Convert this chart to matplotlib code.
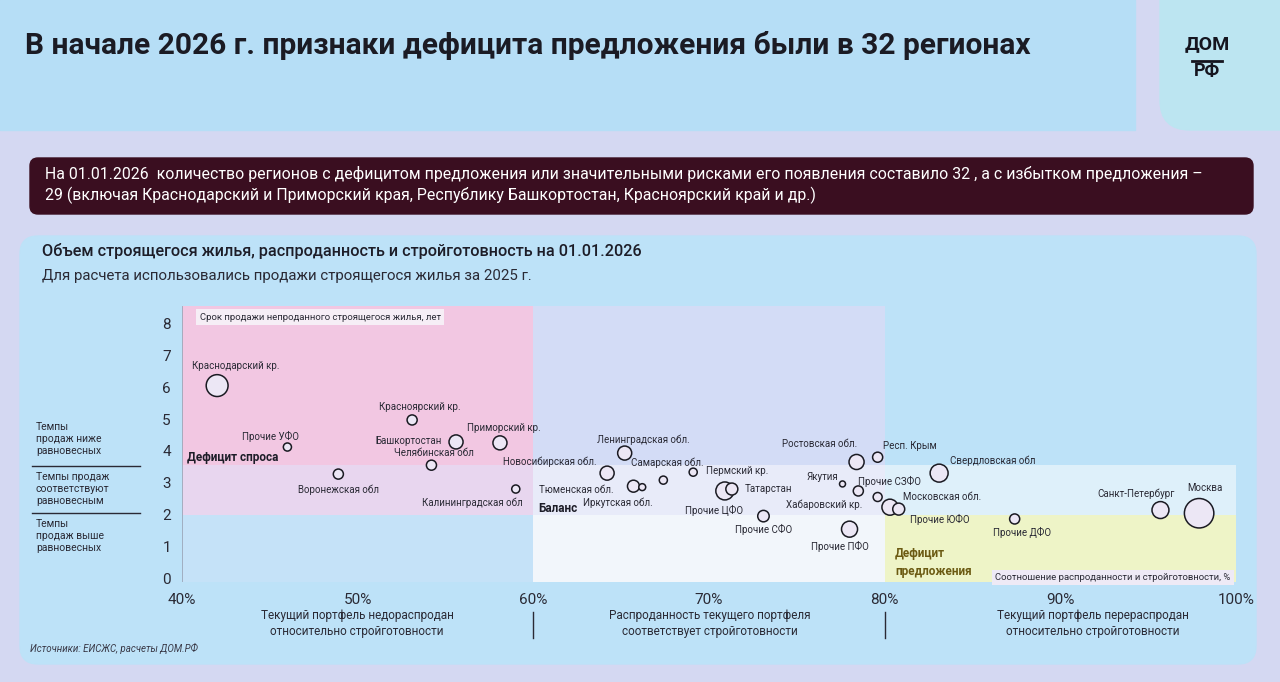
import matplotlib.pyplot as plt
from matplotlib.patches import FancyBboxPatch, Rectangle

plt.rcParams['font.family'] = ['Roboto', 'DejaVu Sans']

# data: sold share of portfolio vs construction readiness, % ; years to sell; volume (rel.)
regions = [
    "Краснодарский кр.", "Красноярский кр.", "Прочие УФО", "Башкортостан",
    "Приморский кр.", "Челябинская обл", "Воронежская обл", "Калининградская обл",
    "Новосибирская обл.", "Ленинградская обл.", "Тюменская обл.", "Иркутская обл.",
    "Самарская обл.", "Пермский кр.", "Прочие ЦФО", "Татарстан", "Прочие СФО",
    "Ростовская обл.", "Респ. Крым", "Якутия", "Прочие СЗФО", "Хабаровский кр.",
    "Московская обл.", "Прочие ЮФО", "Прочие ПФО", "Свердловская обл",
    "Прочие ДФО", "Санкт-Петербург", "Москва",
]
ratio = [42.0, 53.1, 46.0, 55.6, 58.1, 54.2, 48.9, 59.0,
         64.2, 65.2, 65.7, 66.2, 67.4, 69.1, 70.9, 71.3, 73.1,
         78.4, 79.6, 77.6, 78.5, 79.6, 80.3, 80.8, 78.0, 83.1,
         87.4, 95.7, 97.9]
years = [6.05, 4.97, 4.12, 4.28, 4.25, 3.55, 3.27, 2.80,
         3.30, 3.93, 2.89, 2.86, 3.08, 3.33, 2.74, 2.80, 1.95,
         3.65, 3.80, 2.96, 2.74, 2.55, 2.23, 2.17, 1.54, 3.30,
         1.86, 2.14, 2.04]
volume = [8.0, 1.7, 1.1, 3.3, 3.3, 1.7, 1.7, 1.1,
          3.3, 3.3, 2.4, 0.8, 1.1, 1.1, 5.4, 2.4, 2.2,
          3.8, 1.7, 0.6, 1.7, 1.35, 4.3, 2.4, 4.3, 5.4,
          1.7, 4.8, 14.5]

y_ticks = [0, 1, 2, 3, 4, 5, 6, 7, 8]
x_ticks = [40, 50, 60, 70, 80, 90, 100]
x_ticklabels = ["40%", "50%", "60%", "70%", "80%", "90%", "100%"]

# label placement (offset in pixels from circle centre, y down) and alignment
label_pos = {
    "Краснодарский кр.": (19, -20, "center"), "Красноярский кр.": (8, -13, "center"),
    "Прочие УФО": (-17, -11, "center"), "Башкортостан": (-14, -1, "right"),
    "Приморский кр.": (4, -15, "center"), "Челябинская обл": (2, -12, "center"),
    "Воронежская обл": (0, 16, "center"), "Калининградская обл": (7, 14, "right"),
    "Новосибирская обл.": (-10, -11, "right"), "Ленинградская обл.": (19, -13, "center"),
    "Тюменская обл.": (-20, 4, "right"), "Иркутская обл.": (-24, 16, "center"),
    "Самарская обл.": (4, -17, "center"), "Пермский кр.": (13, -1, "left"),
    "Прочие ЦФО": (-11, 20, "center"), "Татарстан": (13, 0, "left"),
    "Прочие СФО": (0, 13, "center"), "Ростовская обл.": (-37, -18, "center"),
    "Респ. Крым": (32, -11, "center"), "Якутия": (-20, -7, "center"),
    "Прочие СЗФО": (31, -9, "center"), "Хабаровский кр.": (-15, 8, "right"),
    "Московская обл.": (13, -10, "left"), "Прочие ЮФО": (11, 10, "left"),
    "Прочие ПФО": (-10, 17, "center"), "Свердловская обл": (11, -12, "left"),
    "Прочие ДФО": (7, 14, "center"), "Санкт-Петербург": (-24, -16, "center"),
    "Москва": (6, -25, "center"),
}

W, H = 1280, 682
fig = plt.figure(figsize=(12.8, 6.82), dpi=100)
bg = fig.add_axes([0, 0, 1, 1], zorder=0)
bg.set_xlim(0, W)
bg.set_ylim(H, 0)
bg.axis("off")

bg.add_patch(Rectangle((0, 0), W, H, color="#d4d8f2"))
bg.add_patch(Rectangle((0, 0), 1135, 130, color="#b6def6"))
bg.add_patch(FancyBboxPatch((1160, -40), 160, 170, boxstyle="round,pad=0,rounding_size=30",
                            color="#bce5f1"))
bg.add_patch(FancyBboxPatch((30, 158), 1223, 56, boxstyle="round,pad=0,rounding_size=8",
                            color="#3a0e20"))
bg.add_patch(FancyBboxPatch((20, 236), 1236, 428, boxstyle="round,pad=0,rounding_size=18",
                            color="#bde2f8"))

bg.text(25, 46, "В начале 2026 г. признаки дефицита предложения были в 32 регионах",
        fontsize=21.5, fontweight="bold", color="#1b1b24", va="center")
bg.text(1207, 44, "ДОМ", fontsize=14, fontweight="bold", color="#15151f",
        ha="center", va="center")
bg.plot([1192, 1222], [61, 61], color="#15151f", lw=2)
bg.text(1207, 71, "РФ", fontsize=13, fontweight="bold", color="#15151f",
        ha="center", va="center")

bg.text(45, 174, "На 01.01.2026  количество регионов с дефицитом предложения или значительными "
        "рисками его появления составило 32 , а с избытком предложения –",
        fontsize=11.4, color="white", va="center")
bg.text(45, 195, "29 (включая Краснодарский и Приморский края, Республику Башкортостан, "
        "Красноярский край и др.)", fontsize=11.4, color="white", va="center")

bg.text(42, 251, "Объем строящегося жилья, распроданность и стройготовность на 01.01.2026",
        fontsize=11.7, fontweight="medium", color="#1d1d28", va="center")
bg.text(42, 276, "Для расчета использовались продажи строящегося жилья за 2025 г.",
        fontsize=10.8, color="#2a2a35", va="center")

side_kw = dict(fontsize=7.5, color="#2a2a35", va="center", linespacing=1.25)
bg.text(36, 439, "Темпы\nпродаж ниже\nравновесных", **side_kw)
bg.plot([32, 140], [466, 466], color="#2a2a35", lw=1)
bg.text(36, 489, "Темпы продаж\nсоответствуют\nравновесным", **side_kw)
bg.plot([32, 140], [513, 513], color="#2a2a35", lw=1)
bg.text(36, 536, "Темпы\nпродаж выше\nравновесных", **side_kw)

desc_kw = dict(fontsize=8.5, color="#2a2a35", ha="center", va="center", linespacing=1.3)
bg.text(357, 623, "Текущий портфель недораспродан\nотносительно стройготовности", **desc_kw)
bg.text(710, 623, "Распроданность текущего портфеля\nсоответствует стройготовности", **desc_kw)
bg.text(1093, 623, "Текущий портфель перераспродан\nотносительно стройготовности", **desc_kw)
bg.plot([533, 533], [612, 638], color="#2a2a35", lw=1)
bg.plot([885, 885], [612, 638], color="#2a2a35", lw=1)
bg.text(30, 648, "Источники: ЕИСЖС, расчеты ДОМ.РФ", fontsize=7, color="#3a3a48",
        va="center", style="italic")

# main chart
ax = fig.add_axes([182 / W, (H - 582) / H, (1236 - 182) / W, (582 - 306) / H], zorder=2)
ax.set_xlim(40, 100)
ax.set_ylim(-0.12, 8.55)
ax.patch.set_alpha(0)
for s in ax.spines.values():
    s.set_visible(False)

top = 8.55
zones = [
    (40, 3.55, 20, top - 3.55, "#f2c7e2"),
    (40, 2.0, 20, 1.55, "#e8d6ef"),
    (40, -0.12, 20, 2.12, "#c5e2f8"),
    (60, 3.55, 20, top - 3.55, "#d3dcf6"),
    (60, 2.0, 20, 1.55, "#e8ebf9"),
    (60, -0.12, 20, 2.12, "#f2f6fb"),
    (80, 2.0, 20, 1.55, "#def0fa"),
    (80, -0.12, 20, 2.12, "#eef4c7"),
]
for x0, y0, w, h, c in zones:
    ax.add_patch(Rectangle((x0, y0), w, h, color=c, zorder=0, lw=0))
ax.axvline(40, color="#9aa6b8", lw=0.6, zorder=1)

ax.scatter(ratio, years, s=[v * 31 for v in volume], facecolor="#ece7f5",
           edgecolor="#1a1a22", linewidth=1.1, zorder=3)
for name, x, y in zip(regions, ratio, years):
    dx, dy, ha = label_pos[name]
    ax.annotate(name, (x, y), xytext=(dx, -dy), textcoords="offset pixels",
                ha=ha, va="center", fontsize=7, color="#2a2a35", zorder=4)

ax.set_yticks(y_ticks)
ax.set_yticklabels([str(t) for t in y_ticks])
ax.set_xticks(x_ticks)
ax.set_xticklabels(x_ticklabels)
ax.tick_params(axis="y", length=0, pad=8, labelsize=11, labelcolor="#2a2a35")
ax.tick_params(axis="x", length=0, pad=8, labelsize=11, labelcolor="#2a2a35")

ax.text(41.0, 8.2, "Срок продажи непроданного строящегося жилья, лет", fontsize=6.8,
        color="#2a2a35", va="center",
        bbox=dict(boxstyle="square,pad=0.35", fc="#f6eef6", ec="none"), zorder=4)
ax.text(40.3, 3.78, "Дефицит спроса", fontsize=8.5, fontweight="bold", color="#1d1d28",
        va="center", zorder=4)
ax.text(60.3, 2.19, "Баланс", fontsize=8.5, fontweight="bold", color="#1d1d28",
        va="center", zorder=4)
ax.text(80.6, 0.5, "Дефицит\nпредложения", fontsize=8.5, fontweight="bold", color="#6b5a12",
        va="center", linespacing=1.5, zorder=4)
ax.text(99.7, 0.02, "Соотношение распроданности и стройготовности, %", fontsize=6.8,
        color="#2a2a35", ha="right", va="center",
        bbox=dict(boxstyle="square,pad=0.35", fc="#eeeaf6", ec="none"), zorder=4)

fig.savefig("out.png", dpi=100)
